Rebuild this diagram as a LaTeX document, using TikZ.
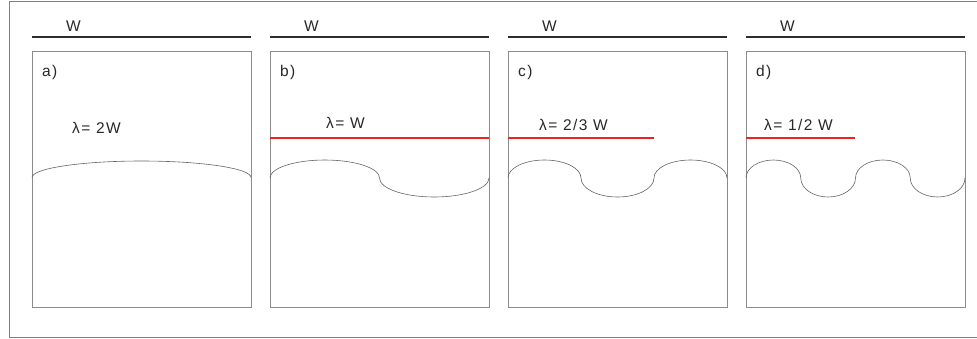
\documentclass[tikz,border=0pt]{standalone}
\usepackage{fontspec}
\setmainfont{Liberation Sans}
\newfontfamily\lblfont[LetterSpace=9]{Liberation Sans}
\definecolor{framegray}{RGB}{128,128,128}
\definecolor{boxgray}{RGB}{140,140,140}
\definecolor{wline}{RGB}{45,45,45}
\definecolor{redline}{RGB}{235,35,35}
\definecolor{curvegray}{RGB}{100,100,100}
\definecolor{txt}{RGB}{40,40,40}
\tikzset{
  panelbox/.style={draw=boxgray, line width=0.8bp, minimum width=219bp, minimum height=256bp, inner sep=0pt, anchor=north west},
  wbar/.style={draw=wline, line width=1.2bp},
  redbar/.style={draw=redline, line width=1.5bp},
  wave/.style={draw=curvegray, line width=0.6bp},
  lbl/.style={inner sep=0pt, anchor=base west, text=txt, font=\lblfont\fontsize{15.5bp}{18bp}\selectfont},
}
\begin{document}
\begin{tikzpicture}[x=1bp,y=1bp]
\useasboundingbox (0,0) rectangle (977,-338);
% outer frame
\draw[framegray, line width=1bp] (995,-1) -- (9,-1) -- (9,-337) -- (995,-337);
% panels
\foreach \i/\L/\tag in {1/32/a, 2/270/b, 3/508/c, 4/746/d}{
  \node[panelbox] (box\i) at (\L,-51) {};
  \coordinate (wl\i) at (\L,-37);
  \coordinate (wr\i) at (\L+219,-37);
  \draw[wbar] (wl\i) -- (wr\i);
  \node[lbl] (w\i) at (\L+34,-31) {W};
  \node[lbl] (tag\i) at (\L+10,-76) {\tag)};
}
% lambda labels
\node[lbl] (lam1) at (72,-133) {λ= 2W};
\node[lbl] (lam2) at (326,-128) {λ= W};
\node[lbl] (lam3) at (539,-130) {λ= 2/3 W};
\node[lbl] (lam4) at (764,-130) {λ= 1/2 W};
% red lines
\coordinate (r2a) at (270,-138); \coordinate (r2b) at (489,-138);
\coordinate (r3a) at (508,-138); \coordinate (r3b) at (654,-138);
\coordinate (r4a) at (746,-138); \coordinate (r4b) at (855,-138);
\draw[redbar] (r2a) -- (r2b);
\draw[redbar] (r3a) -- (r3b);
\draw[redbar] (r4a) -- (r4b);
% waves
\draw[wave] (32,-177.5) arc[start angle=180, end angle=0, x radius=109.5bp, y radius=16.5bp];
\draw[wave] (270,-178) arc[start angle=180, end angle=0, x radius=54.75bp, y radius=18bp]
                       arc[start angle=180, end angle=360, x radius=54.75bp, y radius=19bp];
\draw[wave] (508,-178) arc[start angle=180, end angle=0, x radius=36.5bp, y radius=18bp]
                       arc[start angle=180, end angle=360, x radius=36.5bp, y radius=19bp]
                       arc[start angle=180, end angle=0, x radius=36.5bp, y radius=18bp];
\draw[wave] (746,-178) arc[start angle=180, end angle=0, x radius=27.375bp, y radius=18bp]
                       arc[start angle=180, end angle=360, x radius=27.375bp, y radius=19bp]
                       arc[start angle=180, end angle=0, x radius=27.375bp, y radius=18bp]
                       arc[start angle=180, end angle=360, x radius=27.375bp, y radius=19bp];
\end{tikzpicture}
\end{document}
